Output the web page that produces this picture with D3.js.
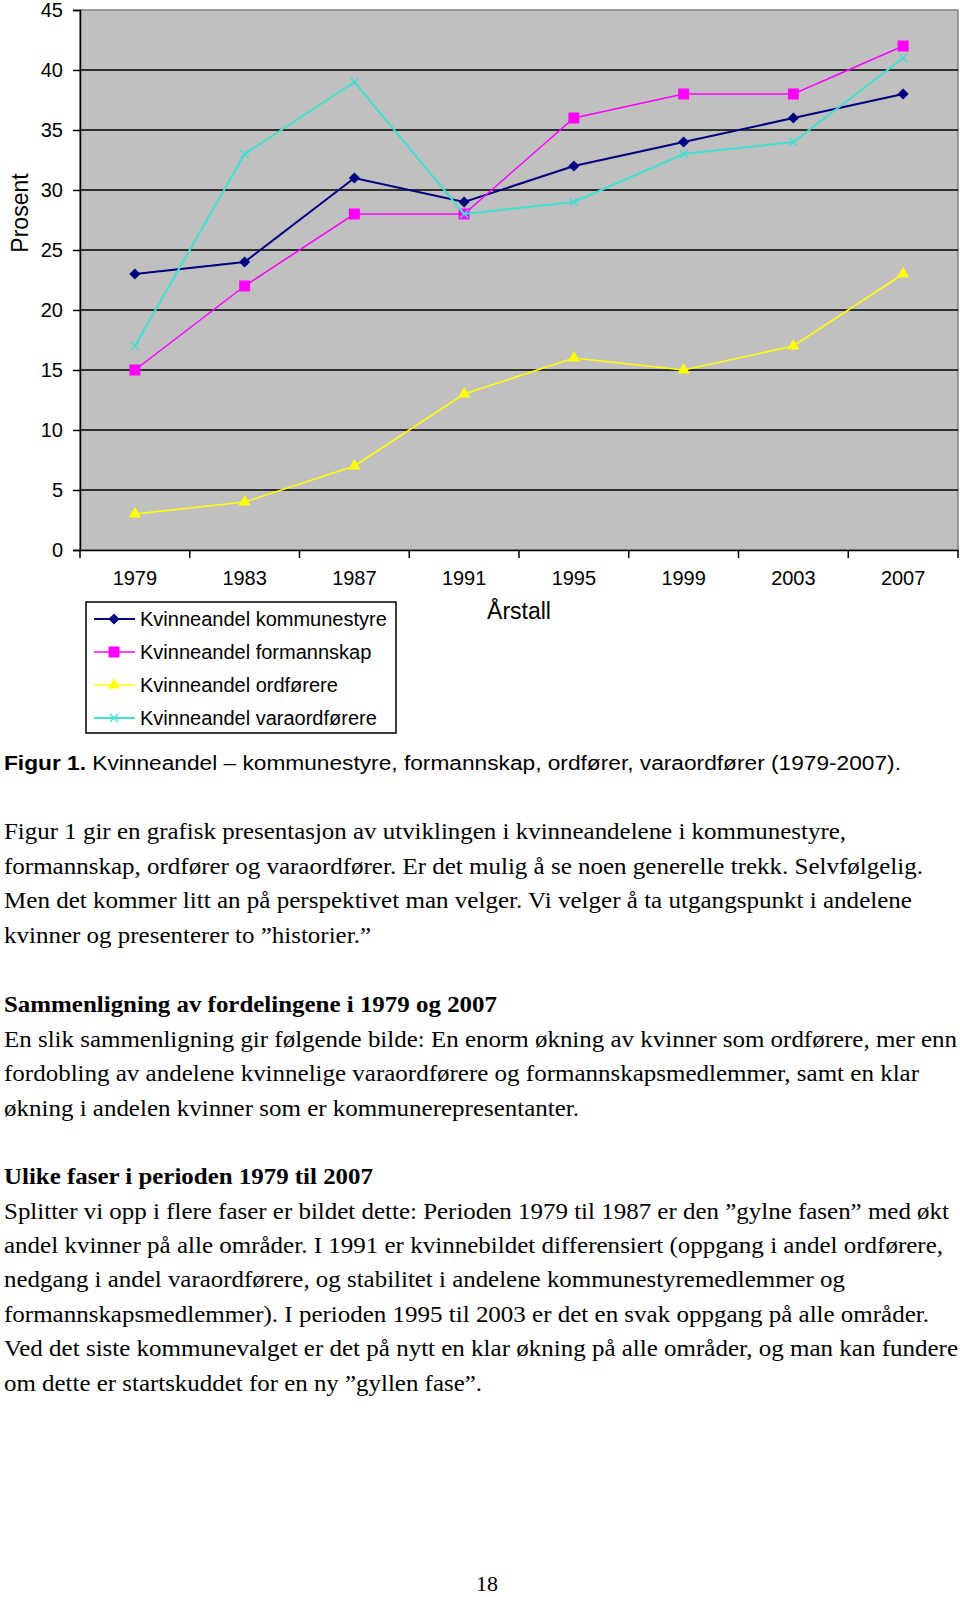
<!DOCTYPE html>
<html><head><meta charset="utf-8">
<script src="https://cdn.jsdelivr.net/npm/d3@7"></script>
<style>body{margin:0;background:#fff}svg{display:block}</style>
</head><body>
<script>
const years = ["1979","1983","1987","1991","1995","1999","2003","2007"];
const kommunestyre = [23,24,31,29,32,34,36,38];
const formannskap = [15,22,28,28,36,38,38,42];
const ordforere = [3,4,7,13,16,15,17,23];
const varaordforere = [17,33,39,28,29,33,34,41];
const seriesNames = ["Kvinneandel kommunestyre","Kvinneandel formannskap","Kvinneandel ordførere","Kvinneandel varaordførere"];
const yTicks = [0,5,10,15,20,25,30,35,40,45];

const caption = ["Figur 1.", " Kvinneandel – kommunestyre, formannskap, ordfører, varaordfører (1979-2007)."];
const para1 = [
 "Figur 1 gir en grafisk presentasjon av utviklingen i kvinneandelene i kommunestyre,",
 "formannskap, ordfører og varaordfører. Er det mulig å se noen generelle trekk. Selvfølgelig.",
 "Men det kommer litt an på perspektivet man velger. Vi velger å ta utgangspunkt i andelene",
 "kvinner og presenterer to ”historier.”"];
const head1 = "Sammenligning av fordelingene i 1979 og 2007";
const para2 = [
 "En slik sammenligning gir følgende bilde: En enorm økning av kvinner som ordførere, mer enn",
 "fordobling av andelene kvinnelige varaordførere og formannskapsmedlemmer, samt en klar",
 "økning i andelen kvinner som er kommunerepresentanter."];
const head2 = "Ulike faser i perioden 1979 til 2007";
const para3 = [
 "Splitter vi opp i flere faser er bildet dette: Perioden 1979 til 1987 er den ”gylne fasen” med økt",
 "andel kvinner på alle områder. I 1991 er kvinnebildet differensiert (oppgang i andel ordførere,",
 "nedgang i andel varaordførere, og stabilitet i andelene kommunestyremedlemmer og",
 "formannskapsmedlemmer). I perioden 1995 til 2003 er det en svak oppgang på alle områder.",
 "Ved det siste kommunevalget er det på nytt en klar økning på alle områder, og man kan fundere",
 "om dette er startskuddet for en ny ”gyllen fase”."];
const pageNo = "18";

(function(){
const W = 960, H = 1597;
const svg = d3.select("body").append("svg").attr("width", W).attr("height", H);

const pL = 80, pR = 958, pT = 10, pB = 550;
const x = d3.scaleBand().domain(years).range([pL, pR]).paddingInner(0).paddingOuter(0);
const y = d3.scaleLinear().domain([0,45]).range([pB, pT]);

svg.append("rect").attr("x", pL).attr("y", pT).attr("width", pR-pL).attr("height", pB-pT)
  .attr("fill", "#c0c0c0").attr("stroke", "#808080").attr("stroke-width", 1.5);

svg.append("g").selectAll("line").data(yTicks.filter(d => d > 0 && d < 45)).join("line")
  .attr("x1", pL).attr("x2", pR).attr("y1", d => y(d)).attr("y2", d => y(d))
  .attr("stroke", "#000").attr("stroke-width", 1.5);

const yAxis = d3.axisLeft(y).tickValues(yTicks).tickSize(7).tickPadding(10);
const gy = svg.append("g").attr("transform", `translate(${pL},0)`).call(yAxis);
gy.select(".domain").attr("stroke", "#000").attr("stroke-width", 1.5);
gy.selectAll(".tick line").attr("stroke", "#000").attr("stroke-width", 1.5);
gy.selectAll("text").attr("font-family", "Liberation Sans, Arial, sans-serif").attr("font-size", 20).attr("fill", "#000");

const xAxis = d3.axisBottom(x).tickSize(0).tickPadding(21);
const gx = svg.append("g").attr("transform", `translate(0,${pB})`).call(xAxis);
gx.select(".domain").attr("stroke", "#000").attr("stroke-width", 1.5);
gx.selectAll("text").attr("font-family", "Liberation Sans, Arial, sans-serif").attr("font-size", 20).attr("fill", "#000");
const bounds = years.map(d => x(d)).concat([x(years[years.length-1]) + x.bandwidth()]);
svg.append("g").selectAll("line").data(bounds).join("line")
  .attr("x1", d => d).attr("x2", d => d).attr("y1", pB).attr("y2", pB + 8)
  .attr("stroke", "#000").attr("stroke-width", 1.5);

svg.append("text").attr("transform", `translate(28,213) rotate(-90)`).attr("text-anchor", "middle")
  .attr("font-family", "Liberation Sans, Arial, sans-serif").attr("font-size", 23).text("Prosent");
svg.append("text").attr("x", 519).attr("y", 619).attr("text-anchor", "middle")
  .attr("font-family", "Liberation Sans, Arial, sans-serif").attr("font-size", 23).text("Årstall");

const colors = ["#000080", "#ff00ff", "#ffff00", "#40e0d0"];
const widths = [2, 1.5, 1.5, 2];
const allSeries = [kommunestyre, formannskap, ordforere, varaordforere];
const cx = i => x(years[i]) + x.bandwidth()/2;

function marker(g, type, color, px, py) {
  if (type === 0) g.append("path").attr("d", d3.symbol(d3.symbolDiamond2, 80)()).attr("transform", `translate(${px},${py})`).attr("fill", color);
  else if (type === 1) g.append("rect").attr("x", px-5.5).attr("y", py-5.5).attr("width", 11).attr("height", 11).attr("fill", color);
  else if (type === 2) g.append("path").attr("d", d3.symbol(d3.symbolTriangle, 65)()).attr("transform", `translate(${px},${py})`).attr("fill", color);
  else g.append("path").attr("d", "M-4,-4L4,4M-4,4L4,-4").attr("transform", `translate(${px},${py})`).attr("stroke", color).attr("stroke-width", 1.5).attr("fill", "none");
}

const line = d3.line().x((d,i) => cx(i)).y(d => y(d));
allSeries.forEach((s, k) => {
  const g = svg.append("g");
  g.append("path").datum(s).attr("d", line).attr("fill", "none").attr("stroke", colors[k]).attr("stroke-width", widths[k]);
  s.forEach((v, i) => marker(g, k, colors[k], cx(i), y(v)));
});

const lg = svg.append("g");
lg.append("rect").attr("x", 86).attr("y", 602).attr("width", 310).attr("height", 131)
  .attr("fill", "#fff").attr("stroke", "#000").attr("stroke-width", 1.5);
const legY = [619, 652, 685, 718];
seriesNames.forEach((n, k) => {
  lg.append("line").attr("x1", 94).attr("x2", 135).attr("y1", legY[k]).attr("y2", legY[k]).attr("stroke", colors[k]).attr("stroke-width", widths[k]);
  marker(lg, k, colors[k], 114, legY[k]);
  lg.append("text").attr("x", 140).attr("y", legY[k] + 7).attr("font-family", "Liberation Sans, Arial, sans-serif")
    .attr("font-size", 20).text(n);
});

const cap = svg.append("text").attr("x", 4).attr("y", 770).attr("font-family", "Liberation Sans, Arial, sans-serif").attr("font-size", 20)
  .attr("textLength", 897).attr("lengthAdjust", "spacingAndGlyphs");
cap.append("tspan").attr("font-weight", "bold").text(caption[0]);
cap.append("tspan").text(caption[1]);

function block(lines, ys, ends, bold) {
  lines.forEach((t, i) => {
    svg.append("text").attr("x", 4).attr("y", ys[i]).attr("font-family", "Liberation Serif, Times New Roman, serif")
      .attr("font-size", 23).attr("font-weight", bold ? "bold" : "normal")
      .attr("textLength", ends[i] - 4).attr("lengthAdjust", "spacingAndGlyphs").text(t);
  });
}
block(para1, [839, 874, 908, 943], [846, 923, 912, 371]);
block([head1], [1012], [497], true);
block(para2, [1047, 1081, 1116], [957, 919, 579]);
block([head2], [1184], [373], true);
block(para3, [1219, 1253, 1287, 1322, 1356, 1391], [949, 943, 845, 929, 958, 482]);

svg.append("text").attr("x", 487).attr("y", 1591).attr("text-anchor", "middle")
  .attr("font-family", "Liberation Serif, Times New Roman, serif").attr("font-size", 22).text(pageNo);
})();
</script>
</body></html>
